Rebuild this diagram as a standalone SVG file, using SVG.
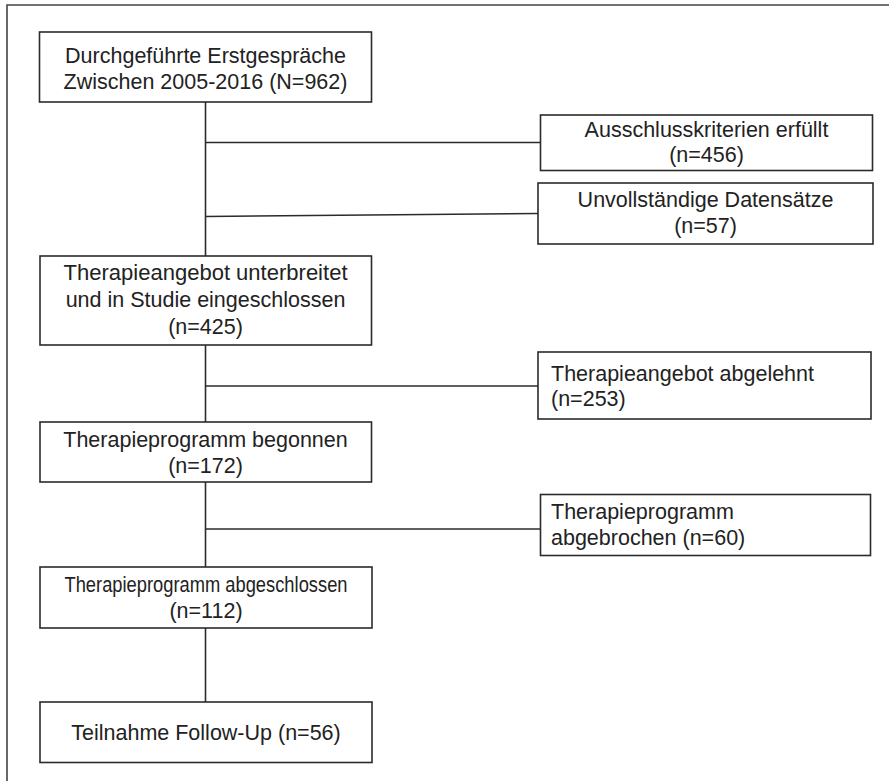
<svg xmlns="http://www.w3.org/2000/svg" width="889" height="781" viewBox="0 0 889 781">
<style>
.box{fill:#fff;stroke:#2b2b2b;stroke-width:1.6}
.ln{stroke:#2b2b2b;stroke-width:1.6;fill:none}
.frame{stroke:#444;stroke-width:1.6;fill:none}
text{font-family:"Liberation Sans",Arial,sans-serif;font-size:21.5px;fill:#222}
.c{text-anchor:middle}
</style>
<rect x="0" y="0" width="889" height="781" fill="#fff"/>
<path class="frame" d="M7,781 V5 H889"/>
<g id="connectors">
<line class="ln" x1="205.5" y1="102" x2="205.5" y2="256"/>
<line class="ln" x1="205.5" y1="345" x2="205.5" y2="422"/>
<line class="ln" x1="205.5" y1="482" x2="205.5" y2="567"/>
<line class="ln" x1="205.5" y1="628" x2="205.5" y2="702"/>
<line class="ln" x1="205.5" y1="142.5" x2="540.5" y2="142.5"/>
<line class="ln" x1="205.5" y1="216.5" x2="538" y2="213.5"/>
<line class="ln" x1="205.5" y1="386" x2="538" y2="386"/>
<line class="ln" x1="205.5" y1="529" x2="540.5" y2="529"/>
</g>
<g id="n1">
<rect class="box" x="39.5" y="32" width="332" height="70"/>
<text class="c" x="205.5" y="63">Durchgeführte Erstgespräche</text>
<text class="c" x="205.5" y="89">Zwischen 2005-2016 (N=962)</text>
</g>
<g id="n2">
<rect class="box" x="540.5" y="115" width="332" height="55.5"/>
<text class="c" x="706.5" y="137">Ausschlusskriterien erfüllt</text>
<text class="c" x="706.5" y="162">(n=456)</text>
</g>
<g id="n3">
<rect class="box" x="538" y="183" width="335" height="61"/>
<text class="c" x="705.5" y="207">Unvollständige Datensätze</text>
<text class="c" x="705.5" y="233">(n=57)</text>
</g>
<g id="n4">
<rect class="box" x="40" y="256" width="331.5" height="89"/>
<text class="c" x="205.5" y="280" textLength="284" lengthAdjust="spacingAndGlyphs">Therapieangebot unterbreitet</text>
<text class="c" x="205.5" y="307">und in Studie eingeschlossen</text>
<text class="c" x="205.5" y="334">(n=425)</text>
</g>
<g id="n5">
<rect class="box" x="538" y="352" width="333" height="67"/>
<text x="551" y="381">Therapieangebot abgelehnt</text>
<text x="551" y="406">(n=253)</text>
</g>
<g id="n6">
<rect class="box" x="40" y="422" width="331.5" height="60"/>
<text class="c" x="205.5" y="447">Therapieprogramm begonnen</text>
<text class="c" x="205.5" y="473">(n=172)</text>
</g>
<g id="n7">
<rect class="box" x="540.5" y="494.5" width="330" height="61"/>
<text x="551" y="519">Therapieprogramm</text>
<text x="551" y="545">abgebrochen (n=60)</text>
</g>
<g id="n8">
<rect class="box" x="40" y="567" width="332" height="61"/>
<text class="c" x="206" y="592" textLength="283" lengthAdjust="spacingAndGlyphs">Therapieprogramm abgeschlossen</text>
<text class="c" x="206" y="618">(n=112)</text>
</g>
<g id="n9">
<rect class="box" x="40" y="702" width="332" height="60.5"/>
<text class="c" x="206" y="740">Teilnahme Follow-Up (n=56)</text>
</g>
</svg>
